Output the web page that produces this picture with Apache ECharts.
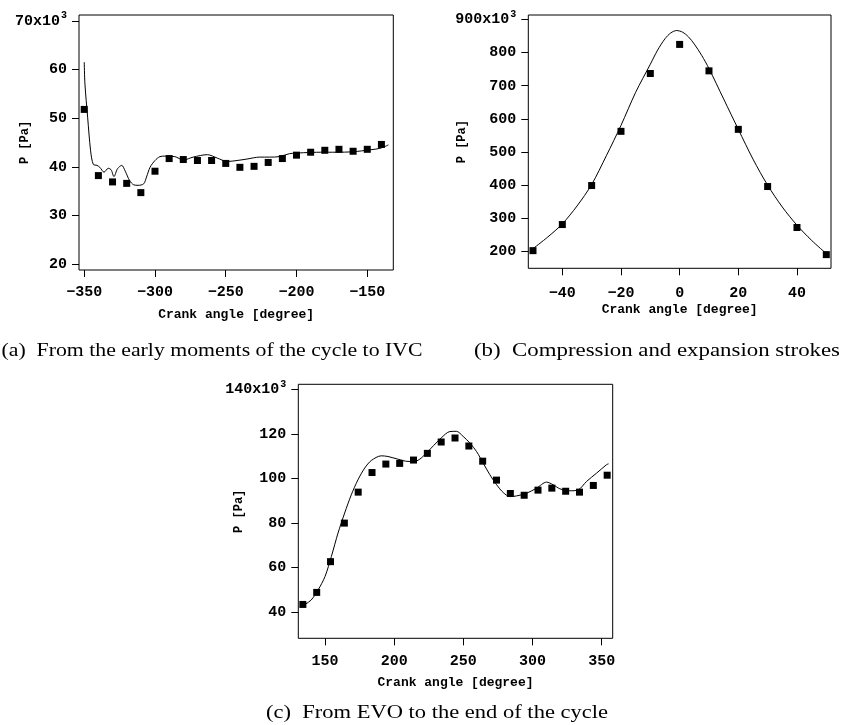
<!DOCTYPE html>
<html>
<head>
<meta charset="utf-8">
<script src="https://cdn.jsdelivr.net/npm/echarts@6/dist/echarts.min.js"></script>
<style>
html,body{margin:0;padding:0;background:#fff;}
#chart{width:842px;height:725px;}
</style>
</head>
<body>
<div id="chart"></div>
<script>
// ---------- Panel (a) ----------
const aPointX = [-350,-340,-330,-320,-310,-300,-290,-280,-270,-260,-250,-240,-230,-220,-210,-200,-190,-180,-170,-160,-150,-140];
const aPointP = [51.8,38.2,36.9,36.6,34.7,39.1,41.7,41.5,41.3,41.3,40.7,39.9,40.1,40.9,41.7,42.4,43.0,43.4,43.6,43.2,43.6,44.6];
const aCurveX = [-350,-349.5,-347.6,-345.5,-343.6,-341,-339,-336,-333,-331,-329,-326.5,-323.5,-321,-318,-315,-312,-308,-306,-303.5,-300,-296.5,-293,-286,-280,-273,-263,-256,-249,-242,-235,-226,-219,-212,-205,-195,-183,-172,-160,-148,-141,-135];
const aCurveP = [61.5,57,50.2,43.3,40.5,40.3,39.9,38.9,39.7,39.4,38.0,39.6,40.3,39.1,37.2,36.3,36.2,36.5,37.9,39.9,41.3,42.1,42.2,42.1,41.4,42.0,42.5,41.8,41.1,41.3,41.6,42.0,42.0,42.1,42.7,42.9,43.0,43.0,43.1,43.5,43.8,44.5];
const aXTicks = [-350,-300,-250,-200,-150];
const aYTicks = [20,30,40,50,60,70];

// ---------- Panel (b) ----------
const bPointX = [-50,-40,-30,-20,-10,0,10,20,30,40,50];
const bPointP = [201,280,398,562,737,825,745,568,395,271,189];
const bCurveX = [-50,-45,-40,-35,-30,-25,-20,-15,-10,-7.5,-5,-3,-1,1,3,5,7.5,10,15,20,25,30,35,40,45,50];
const bCurveP = [207,242,282,336,401,488,580,680,765,808,842,860,867,862,848,826,792,752,660,568,478,399,333,278,232,192];
const bXTicks = [-40,-20,0,20,40];
const bYTicks = [200,300,400,500,600,700,800,900];

// ---------- Panel (c) ----------
const cPointX = [134,144,154,164,174,184,194,204,214,224,234,244,254,264,274,284,294,304,314,324,334,344,354];
const cPointP = [43.4,48.8,62.6,79.9,93.8,102.6,106.4,106.7,108.2,111.2,116.3,118.1,114.5,107.7,99.2,93.2,92.4,94.7,95.6,94.2,93.8,96.8,101.4];
const cCurveX = [133,140,145,150,154.6,159.4,164.2,169,173.8,178.7,183.5,190.7,195.5,202.7,210,214.8,219.6,226.8,234,240.3,245,249.9,254.8,259.6,264.4,269.2,274.1,278.9,283.7,288.5,295.7,303,310.2,315,319.8,327,333,339.1,346.3,353.5,355];
const cCurveP = [42.4,45.4,49.9,55.9,64.9,75.4,84.4,92.6,99.3,104.6,108,110.1,109.8,108.6,107.6,107.6,109.1,113.6,118.1,121,121.1,118.8,115.8,112,106.8,101.6,97.1,93.6,91.8,92.1,93.3,95.6,98.3,97.1,95.3,94.4,94.8,98.6,102.3,106.1,106.5];
const cXTicks = [150,200,250,300,350];
const cYTicks = [40,60,80,100,120,140];

const captions = [
  '(a)  From the early moments of the cycle to IVC',
  '(b)  Compression and expansion strokes',
  '(c)  From EVO to the end of the cycle'
];

function zip(xs, ys){ return xs.map((x,i)=>[x, ys[i]]); }

const MONO = '"Liberation Mono","DejaVu Sans Mono",monospace';
const SERIF = '"Liberation Serif","DejaVu Serif",serif';
const CAP_FONT = '19px ' + SERIF;

// caption layout: [center x, center y, target width]
const capLayout = [[212, 351, 421], [657, 351, 366], [437, 713, 342]];
const mctx = document.createElement('canvas').getContext('2d');
mctx.font = CAP_FONT;
function capScale(i){
  const w = mctx.measureText(captions[i]).width;
  return w > 0 ? capLayout[i][2] / w : 1;
}

const grids = [
  {left:79, top:15, width:314.3, height:255},
  {left:528.3, top:15, width:302.7, height:253.3},
  {left:298.3, top:384.3, width:314.4, height:254}
];
const xr = [[-353.7,-131.6],[-51.6,51.6],[130.7,358]];
const yr = [[18.8,71.2],[147.6,914],[28.2,142.2]];
const xt = [aXTicks,bXTicks,cXTicks];
const yt = [aYTicks,bYTicks,cYTicks];
const yNameGap = [48,60,53];
const xLabelMargin = [15,17,15];
const xNameGap = [38,35,38];
const topVal = [70,900,140];

const chart = echarts.init(document.getElementById('chart'), null, {renderer:'canvas'});

const option = {
  animation:false,
  backgroundColor:'#fff',
  grid: grids.map(g=>Object.assign({show:true, borderColor:'#000', borderWidth:1, backgroundColor:'transparent', containLabel:false}, g)),
  xAxis: grids.map((g,i)=>({
    type:'value', gridIndex:i, min:xr[i][0], max:xr[i][1],
    name:'Crank angle [degree]', nameLocation:'middle', nameGap:xNameGap[i], nameMoveOverlap:false,
    nameTextStyle:{fontFamily:MONO, fontWeight:'bold', fontSize:13, color:'#000'},
    axisLine:{show:false, onZero:false},
    splitLine:{show:false},
    axisTick:{show:true, inside:false, length:7, lineStyle:{color:'#000', width:1}, customValues:xt[i]},
    axisLabel:{show:true, margin:xLabelMargin[i], fontFamily:MONO, fontWeight:'bold', fontSize:15, color:'#000', customValues:xt[i],
      formatter:v=>String(v).replace('-','\u2212')}
  })),
  yAxis: grids.map((g,i)=>({
    type:'value', gridIndex:i, min:yr[i][0], max:yr[i][1],
    name:'P [Pa]', nameLocation:'middle', nameGap:yNameGap[i], nameRotate:90, nameMoveOverlap:false,
    nameTextStyle:{fontFamily:MONO, fontWeight:'bold', fontSize:12, color:'#000'},
    axisLine:{show:false, onZero:false},
    splitLine:{show:false},
    axisTick:{show:true, inside:false, length:7, lineStyle:{color:'#000', width:1}, customValues:yt[i]},
    axisLabel:{show:true, margin:12, fontFamily:MONO, fontWeight:'bold', fontSize:15, color:'#000', customValues:yt[i],
      formatter:v=> v===topVal[i] ? '{m|'+v+'x10}{s|3}' : String(v),
      rich:{
        m:{fontFamily:MONO, fontWeight:'bold', fontSize:15, color:'#000'},
        s:{fontFamily:MONO, fontSize:10, color:'#000', padding:[0,0,10,1]}
      }
    }
  })),
  series: [
    {type:'line', xAxisIndex:0, yAxisIndex:0, data:zip(aCurveX,aCurveP), showSymbol:false, smooth:0.3, lineStyle:{color:'#000', width:1}, z:2},
    {type:'scatter', xAxisIndex:0, yAxisIndex:0, data:zip(aPointX,aPointP), symbol:'rect', symbolSize:7, itemStyle:{color:'#000', opacity:1}, z:3},
    {type:'line', xAxisIndex:1, yAxisIndex:1, data:zip(bCurveX,bCurveP), showSymbol:false, smooth:0.3, lineStyle:{color:'#000', width:1}, z:2},
    {type:'scatter', xAxisIndex:1, yAxisIndex:1, data:zip(bPointX,bPointP), symbol:'rect', symbolSize:7, itemStyle:{color:'#000', opacity:1}, z:3},
    {type:'line', xAxisIndex:2, yAxisIndex:2, data:zip(cCurveX,cCurveP), showSymbol:false, smooth:0.3, lineStyle:{color:'#000', width:1}, z:2},
    {type:'scatter', xAxisIndex:2, yAxisIndex:2, data:zip(cPointX,cPointP), symbol:'rect', symbolSize:7, itemStyle:{color:'#000', opacity:1}, z:3}
  ],
  graphic: captions.map((t,i)=>({
    type:'text', x:capLayout[i][0], y:capLayout[i][1], scaleX:capScale(i), scaleY:1,
    style:{text:t, font:CAP_FONT, fill:'#000', align:'center', verticalAlign:'middle'}
  }))
};
chart.setOption(option);
</script>
</body>
</html>
